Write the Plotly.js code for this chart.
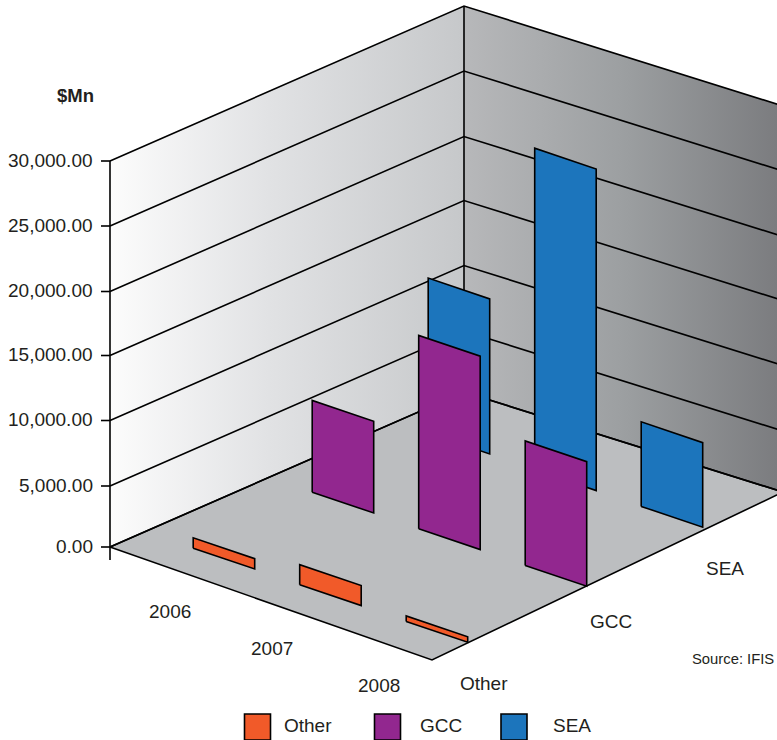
<!DOCTYPE html>
<html>
<head>
<meta charset="utf-8">
<script src="https://cdn.plot.ly/plotly-3.0.1.min.js"></script>
<style>html,body{margin:0;padding:0;background:#fff;overflow:hidden}</style>
</head>
<body>
<div id="chart" style="width:777px;height:740px"></div>
<script>
// Chart data: revenue in $Mn by year and region
const years = ['2006', '2007', '2008'];
const regions = ['Other', 'GCC', 'SEA'];
const otherValues = [850, 1650, 450];
const gccValues = [7350, 15150, 9850];
const seaValues = [12200, 25050, 6800];
const tickValues = [0, 5000, 10000, 15000, 20000, 25000, 30000];
const tickLabels = ['0.00', '5,000.00', '10,000.00', '15,000.00', '20,000.00', '25,000.00', '30,000.00'];

const regionColors = ['#f15a29', '#92278f', '#1c75bc'];
const regionValues = [otherValues, gccValues, seaValues];

// Screen geometry of the oblique box (x and y axes run in pixels)
const leftCorner = [110, 547], frontCorner = [432, 660], rightCorner = [783, 492], backCorner = [464, 392];
const tickRise = [0, 61, 126.5, 191.5, 255.5, 321, 386];
const rowStartX = [254.7, 373.7, 489.7], rowStartY = [569, 513, 454];
const yearStep = [106.5, 36.6], ribbonSpan = [61.5, 20.8];
const strokeWidth = 1.6;

// Vertical scale: value to rise in pixels, following the tick spacing
function rise(value) {
  for (let i = 1; i < tickValues.length; i++) {
    if (value <= tickValues[i]) {
      const t = (value - tickValues[i - 1]) / (tickValues[i] - tickValues[i - 1]);
      return tickRise[i - 1] + t * (tickRise[i] - tickRise[i - 1]);
    }
  }
  return tickRise[tickRise.length - 1];
}

const wallRise = rise(30000);
const ink = '#231f20';
const traces = [];

function polygon(points, extra) {
  return Object.assign({
    type: 'scatter', mode: 'lines', hoverinfo: 'skip', showlegend: false, fill: 'toself',
    x: points.map(p => p[0]).concat(points[0][0]),
    y: points.map(p => p[1]).concat(points[0][1])
  }, extra);
}
const lifted = (p, h) => [p[0], p[1] - h];

// Left and right walls with their horizontal shading
traces.push(polygon([leftCorner, backCorner, lifted(backCorner, wallRise), lifted(leftCorner, wallRise)], {
  line: {width: 0}, fillcolor: '#e0e0e0',
  fillgradient: {type: 'horizontal', colorscale: [[0, '#fcfcfc'], [0.45, '#e1e2e4'], [1, '#c6c8ca']]}
}));
traces.push(polygon([backCorner, rightCorner, lifted(rightCorner, wallRise), lifted(backCorner, wallRise)], {
  line: {width: 0}, fillcolor: '#999999',
  fillgradient: {type: 'horizontal', colorscale: [[0, '#b7b8ba'], [0.5, '#9c9fa1'], [1, '#7a7b7e']]}
}));

// Floor
traces.push(polygon([leftCorner, frontCorner, rightCorner, backCorner], {
  line: {color: '#000', width: strokeWidth}, fillcolor: '#bcbec0'
}));

// Gridlines across both walls
const gridX = [], gridY = [];
tickRise.forEach(h => {
  [leftCorner, backCorner, rightCorner].forEach(c => { gridX.push(c[0]); gridY.push(c[1] - h); });
  gridX.push(null); gridY.push(null);
});
traces.push({
  type: 'scatter', mode: 'lines', hoverinfo: 'skip', showlegend: false,
  x: gridX, y: gridY, line: {color: '#000', width: strokeWidth}
});

// Vertical axis, its ticks, and the back corner
const axisX = [leftCorner[0], leftCorner[0], null, backCorner[0], backCorner[0]];
const axisY = [leftCorner[1] - wallRise, leftCorner[1] + 13, null, backCorner[1] - wallRise, backCorner[1]];
tickRise.forEach(h => {
  axisX.push(null, 101, leftCorner[0]);
  axisY.push(null, leftCorner[1] - h, leftCorner[1] - h);
});
traces.push({
  type: 'scatter', mode: 'lines', hoverinfo: 'skip', showlegend: false,
  x: axisX, y: axisY, line: {color: '#000', width: strokeWidth}
});

// Ribbons, back row first so nearer rows overlap farther ones
for (let r = regions.length - 1; r >= 0; r--) {
  years.forEach((year, k) => {
    const x1 = rowStartX[r] + k * yearStep[0], y1 = rowStartY[r] + k * yearStep[1];
    const x0 = x1 - ribbonSpan[0], y0 = y1 - ribbonSpan[1];
    const h = rise(regionValues[r][k]);
    traces.push(polygon([[x0, y0], [x1, y1], [x1, y1 - h], [x0, y0 - h]], {
      name: regions[r] + ' ' + year,
      line: {color: '#000', width: strokeWidth}, fillcolor: regionColors[r]
    }));
  });
}

// Legend swatches
const swatchX = [257.5, 387.5, 514];
regions.forEach((name, r) => {
  traces.push({
    type: 'scatter', mode: 'markers', hoverinfo: 'skip', showlegend: false, name,
    x: [swatchX[r]], y: [727],
    marker: {symbol: 'square', size: 26, color: regionColors[r], line: {color: '#000', width: strokeWidth}}
  });
});

// Text
const note = (text, x, y, anchor, size, bold) => ({
  text: bold ? '<b>' + text + '</b>' : text, x, y, xref: 'x', yref: 'y', showarrow: false,
  xanchor: anchor, yanchor: 'middle',
  font: {family: '"Liberation Sans", Arial, sans-serif', size, color: ink}
});
const yearLabelX = [170, 272, 379], yearLabelY = [611, 648, 685];
const regionLabelX = [484, 611, 725], regionLabelY = [683, 621, 568];
const legendLabelX = [282, 418, 551];
const annotations = [note('$Mn', 75, 95, 'center', 18.5, true), note('Source: IFIS', 776, 659, 'right', 14.8)];
tickLabels.forEach((t, i) => annotations.push(note(t, 95, leftCorner[1] - tickRise[i] - 1, 'right', 19)));
years.forEach((t, i) => annotations.push(note(t, yearLabelX[i], yearLabelY[i], 'center', 19)));
regions.forEach((t, i) => annotations.push(note(t, regionLabelX[i], regionLabelY[i], 'center', 19)));
regions.forEach((t, i) => annotations.push(note(t, legendLabelX[i], 725, 'left', 19)));

const hiddenAxis = {visible: false, fixedrange: true};
Plotly.newPlot('chart', traces, {
  width: 777, height: 740, autosize: false, showlegend: false,
  margin: {l: 0, r: 0, t: 0, b: 0},
  paper_bgcolor: '#fff', plot_bgcolor: '#fff',
  xaxis: Object.assign({range: [0, 777]}, hiddenAxis),
  yaxis: Object.assign({range: [740, 0]}, hiddenAxis),
  annotations
}, {displayModeBar: false, staticPlot: true});
</script>
</body>
</html>
